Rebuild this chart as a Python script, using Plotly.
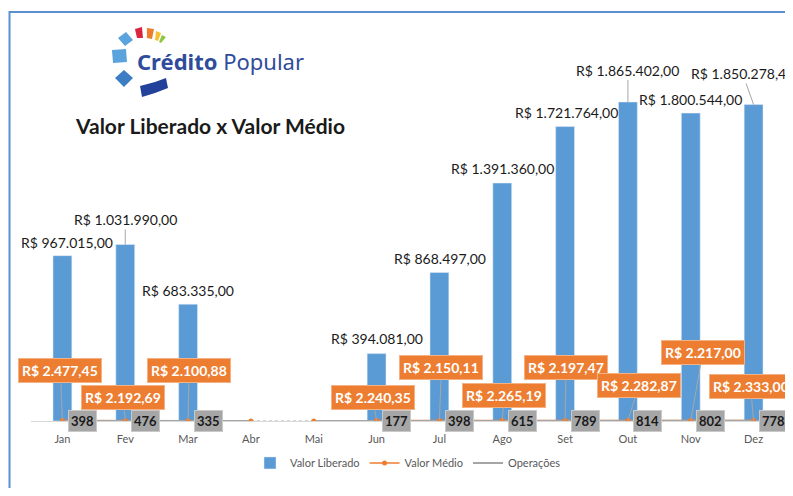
import plotly.graph_objects as go

# Dados
meses = ["Jan", "Fev", "Mar", "Abr", "Mai", "Jun", "Jul", "Ago", "Set", "Out", "Nov", "Dez"]
valor_liberado = [967015.00, 1031990.00, 683335.00, 0, 0, 394081.00, 868497.00,
                  1391360.00, 1721764.00, 1865402.00, 1800544.00, 1850278.42]
valor_medio = [2477.45, 2192.69, 2100.88, 0, 0, 2240.35, 2150.11, 2265.19,
               2197.47, 2282.87, 2217.00, 2333.00]
operacoes = [398, 476, 335, 0, 0, 177, 398, 615, 789, 814, 802, 778]

AZUL = "#5B9BD5"
LARANJA = "#ED7D31"
CINZA = "#A5A5A5"

# posição dos rótulos (deslocamento em px em relação ao ponto)
pos_lib = [(5, -13), (0, -25), (0, -14), None, None, (0, -15), (1, -14), (0, -15),
           (1, -14), (0, -32), (0, -14), (-11, -31)]
pos_med = [(-2, -50), (-2, -23), (1, -50), None, None, (-4, -23), (2, -53), (2, -25),
           (1, -53), (11, -35), (12, -68), (-3, -34)]
linha_lib = [False, True, False, False, False, False, False, False, False, True, False, True]

# a página tem margem de 8px no body
OFF = 8
W, H = 793 - OFF, 496 - 2 * OFF
ML, MR, MT, MB = 23, 8, 32, 67
PW, PH = W - ML - MR, H - MT - MB


def brl(v):
    s = f"{v:,.2f}".replace(",", "X").replace(".", ",").replace("X", ".")
    return "R$ " + s


def px(x, y):
    # coordenadas da tela -> paper
    return (x - OFF - ML) / PW, (H - MB - (y - OFF)) / PH


def poligono(pts, cor):
    p = [px(x, y) for x, y in pts]
    d = "M " + " L ".join(f"{a:.4f},{b:.4f}" for a, b in p) + " Z"
    return dict(type="path", xref="paper", yref="paper", path=d, fillcolor=cor,
                line=dict(width=0), layer="above")


medio_linha = [v if v else None for v in valor_medio]

fig = go.Figure()
fig.add_bar(x=meses, y=valor_liberado, name="Valor Liberado", marker_color=AZUL,
            width=0.3, legendrank=1)
fig.add_scatter(x=meses, y=medio_linha, mode="lines+markers", name="Valor Médio",
                line=dict(color=LARANJA, width=1.5), marker=dict(size=5, color=LARANJA),
                connectgaps=False, legendrank=2)
# Operações (trecho Abr-Mai tracejado)
fig.add_scatter(x=meses[:4], y=operacoes[:4], mode="lines", name="Operações",
                line=dict(color=CINZA, width=2), legendrank=3, legendgroup="op")
fig.add_scatter(x=meses[3:5], y=operacoes[3:5], mode="lines", showlegend=False,
                line=dict(color="#C8C8C8", width=1.5, dash="dot"), legendgroup="op")
fig.add_scatter(x=meses[4:], y=operacoes[4:], mode="lines", showlegend=False,
                line=dict(color=CINZA, width=2), legendgroup="op")
fig.add_scatter(x=meses, y=valor_medio, mode="markers", showlegend=False,
                marker=dict(size=5, color=LARANJA))

anns = []
for i, m in enumerate(meses):
    if pos_lib[i]:
        ax, ay = pos_lib[i]
        anns.append(dict(x=m, y=valor_liberado[i], text=brl(valor_liberado[i]),
                         showarrow=True, ax=ax, ay=ay, arrowhead=0, arrowwidth=1,
                         arrowcolor="#A6A6A6" if linha_lib[i] else "rgba(0,0,0,0)",
                         font=dict(family="Lato", size=14, color="#1A1A1A")))
    if pos_med[i]:
        ax, ay = pos_med[i]
        anns.append(dict(x=m, y=valor_medio[i], text="<b>" + brl(valor_medio[i]) + "</b>",
                         showarrow=True, ax=ax, ay=ay, arrowhead=0, arrowwidth=1,
                         arrowcolor="#A6A6A6", bgcolor=LARANJA, bordercolor="#F4B183",
                         borderwidth=1, borderpad=3,
                         font=dict(family="Lato", size=14, color="white")))
    if operacoes[i]:
        anns.append(dict(x=m, y=operacoes[i], text="<b>%d</b>" % operacoes[i],
                         showarrow=False, xshift=20, bgcolor="#A6A6A6",
                         bordercolor="#C9C9C9", borderwidth=1, borderpad=2,
                         font=dict(family="Lato", size=13, color="#1A1A1A")))

tx, ty = px(210, 125)
anns.append(dict(xref="paper", yref="paper", x=tx, y=ty, showarrow=False,
                 xanchor="center", yanchor="middle",
                 text="<b>Valor Liberado x Valor Médio</b>",
                 font=dict(family="Lato", size=21, color="#1A1A1A")))
lx, ly = px(220, 61)
anns.append(dict(xref="paper", yref="paper", x=lx, y=ly, showarrow=False,
                 xanchor="center", yanchor="middle",
                 text="<b>Crédito</b> Popular",
                 font=dict(family="Noto Sans", size=22, color="#2F4C9C")))

shapes = []
bx0, by0 = px(9.5, 12)
bx1, by1 = px(805, 510)
shapes.append(dict(type="rect", xref="paper", yref="paper", x0=bx0, y0=by0, x1=bx1, y1=by1,
                   line=dict(color="#5B8FCF", width=2), layer="below"))
shapes += [
    poligono([(135, 29), (142, 27), (143, 38), (137, 38)], "#D7263D"),
    poligono([(147, 28), (154, 29), (152, 39), (147, 38)], "#EE7D2B"),
    poligono([(156, 31), (161, 33), (158, 41), (155, 40)], "#F5C12E"),
    poligono([(162, 35), (166, 37), (161, 43), (159, 42)], "#8DC63F"),
    poligono([(118, 38), (126, 32), (133, 40), (125, 46)], "#5BA3DC"),
    poligono([(112, 50), (126, 49), (127, 62), (113, 63)], "#5BA3DC"),
    poligono([(115, 78), (124, 70), (133, 78), (124, 87)], "#3C7DC4"),
    poligono([(140, 86), (155, 82), (166, 78), (168, 88), (155, 93), (142, 97)], "#22419A"),
]

fig.update_layout(
    width=W, height=H, margin=dict(l=ML, r=MR, t=MT, b=MB),
    paper_bgcolor="white", plot_bgcolor="white",
    font=dict(family="Lato", size=11, color="#595959"),
    annotations=anns, shapes=shapes,
    legend=dict(orientation="h", x=0.5, xanchor="center", y=-0.11, yanchor="middle",
                font=dict(size=11, color="#595959")),
    bargap=0.7,
)
fig.update_xaxes(range=[-0.5, 11.5], showline=True, linecolor="#D9D9D9", ticks="",
                 showgrid=False, tickfont=dict(size=11, color="#595959"),
                 ticklabelstandoff=8)
fig.update_yaxes(range=[0, 2228000], visible=False, showgrid=False, zeroline=False)

fig.write_html("out.html")
